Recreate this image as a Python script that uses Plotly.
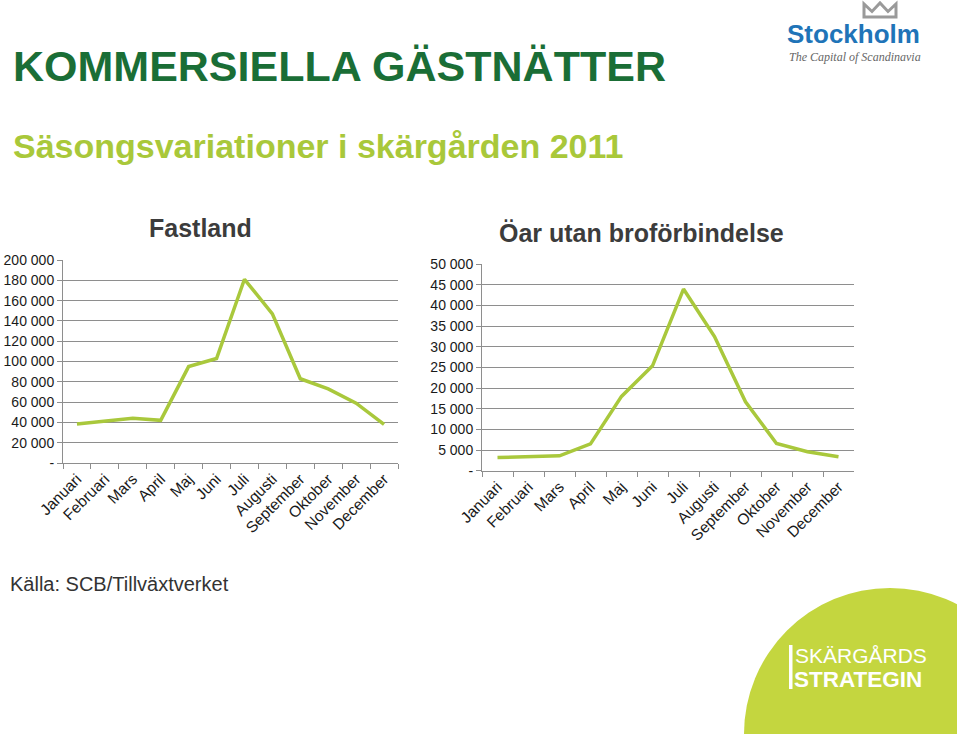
import plotly.graph_objects as go

W, H = 960, 734

months = ["Januari", "Februari", "Mars", "April", "Maj", "Juni", "Juli",
          "Augusti", "September", "Oktober", "November", "December"]
fastland = [38500, 41000, 44000, 42000, 95000, 103000, 181000, 147000, 83000, 73000, 59000, 38000]
oar = [3200, 3500, 3600, 6500, 18000, 25400, 44000, 32500, 16700, 6600, 4600, 3400]

left_ticks = [0, 20000, 40000, 60000, 80000, 100000, 120000, 140000, 160000, 180000, 200000]
left_labels = ["-", "20 000", "40 000", "60 000", "80 000", "100 000", "120 000",
               "140 000", "160 000", "180 000", "200 000"]
right_ticks = [0, 5000, 10000, 15000, 20000, 25000, 30000, 35000, 40000, 45000, 50000]
right_labels = ["-", "5 000", "10 000", "15 000", "20 000", "25 000", "30 000",
                "35 000", "40 000", "45 000", "50 000"]

LINE = "#a9c83c"
GRID = "#8e8e8e"
FONT = "Liberation Sans, Arial, sans-serif"


def px(x):
    return x / W


def py(y):
    return 1 - y / H


fig = go.Figure()
fig.add_trace(go.Scatter(x=months, y=fastland, mode="lines", xaxis="x", yaxis="y",
                         line=dict(color=LINE, width=3.5), showlegend=False))
fig.add_trace(go.Scatter(x=months, y=oar, mode="lines", xaxis="x2", yaxis="y2",
                         line=dict(color=LINE, width=3.5), showlegend=False))

xcommon = dict(type="category", range=[-0.5, 11.5], showgrid=False, showline=True,
               linecolor=GRID, linewidth=1, ticks="outside", tickson="boundaries",
               ticklen=5, tickcolor=GRID, tickangle=-45, automargin=False,
               tickfont=dict(family=FONT, size=15.5, color="#1a1a1a"), fixedrange=True)
ycommon = dict(showgrid=True, gridcolor=GRID, gridwidth=1, showline=True, linecolor=GRID,
               linewidth=1, ticks="outside", ticklen=5, tickcolor=GRID, zeroline=False,
               automargin=False,
               tickfont=dict(family=FONT, size=14, color="#1a1a1a"), fixedrange=True)

fig.update_layout(
    width=W, height=H, margin=dict(l=0, r=0, t=0, b=0, autoexpand=False),
    paper_bgcolor="white", plot_bgcolor="white",
    xaxis=dict(domain=[px(63), px(398)], anchor="y", **xcommon),
    yaxis=dict(domain=[py(463), py(260)], anchor="x", range=[0, 200000],
               tickvals=left_ticks, ticktext=left_labels, **ycommon),
    xaxis2=dict(domain=[px(482), px(854)], anchor="y2", **xcommon),
    yaxis2=dict(domain=[py(470.7), py(264.3)], anchor="x2", range=[0, 50000],
                tickvals=right_ticks, ticktext=right_labels, **ycommon),
)

ann = []


def text(x, y, s, size, color, bold=False, anchor="left", family=FONT, italic=False):
    if bold:
        s = "<b>" + s + "</b>"
    if italic:
        s = "<i>" + s + "</i>"
    ann.append(dict(x=px(x), y=py(y), xref="paper", yref="paper", text=s, showarrow=False,
                    xanchor=anchor, yanchor="middle", borderpad=0,
                    font=dict(family=family, size=size, color=color)))


text(12, 66, "KOMMERSIELLA GÄSTNÄTTER", 43, "#1a6e36", bold=True)
text(12, 146, "Säsongsvariationer i skärgården 2011", 34, "#a9c83a", bold=True)
text(200, 228, "Fastland", 25, "#3c3c3c", bold=True, anchor="center")
text(641, 233, "Öar utan broförbindelse", 25, "#3c3c3c", bold=True, anchor="center")
text(9, 584, "Källa: SCB/Tillväxtverket", 20, "#333333")

# Stockholm logo
text(786, 34, "Stockholm", 26, "#1f74b8", bold=True)
text(788, 57, "The Capital of Scandinavia", 12, "#666666",
     family="Liberation Serif, Times New Roman, serif", italic=True)

# Skärgårdsstrategin logo text
text(794, 655, "SKÄRGÅRDS", 21, "white")
text(793, 679, "STRATEGIN", 22.5, "white", bold=True)

fig.update_layout(annotations=ann)

shapes = []
# crown
pts = [(864, 17), (864, 4), (872, 11.5), (880, 3), (888, 11.5), (896, 4), (896, 17)]
path = "M " + " L ".join(f"{px(a):.5f},{py(b):.5f}" for a, b in pts) + " Z"
shapes.append(dict(type="path", path=path, xref="paper", yref="paper",
                   line=dict(color="#9a9a9a", width=3), fillcolor="white"))
# green circle
cx, cy, r = 890, 734, 146
shapes.append(dict(type="circle", xref="paper", yref="paper",
                   x0=px(cx - r), x1=px(cx + r), y0=py(cy + r), y1=py(cy - r),
                   fillcolor="#c4d63f", line=dict(width=0), layer="below"))
shapes.append(dict(type="rect", xref="paper", yref="paper", x0=px(957), x1=1.0,
                   y0=0, y1=1, fillcolor="white", line=dict(width=0), layer="below"))
# bar in logo
shapes.append(dict(type="rect", xref="paper", yref="paper", x0=px(789), x1=px(792.5),
                   y0=py(689), y1=py(645), fillcolor="white", line=dict(width=0)))
fig.update_layout(shapes=shapes)

fig.write_html("out.html")
